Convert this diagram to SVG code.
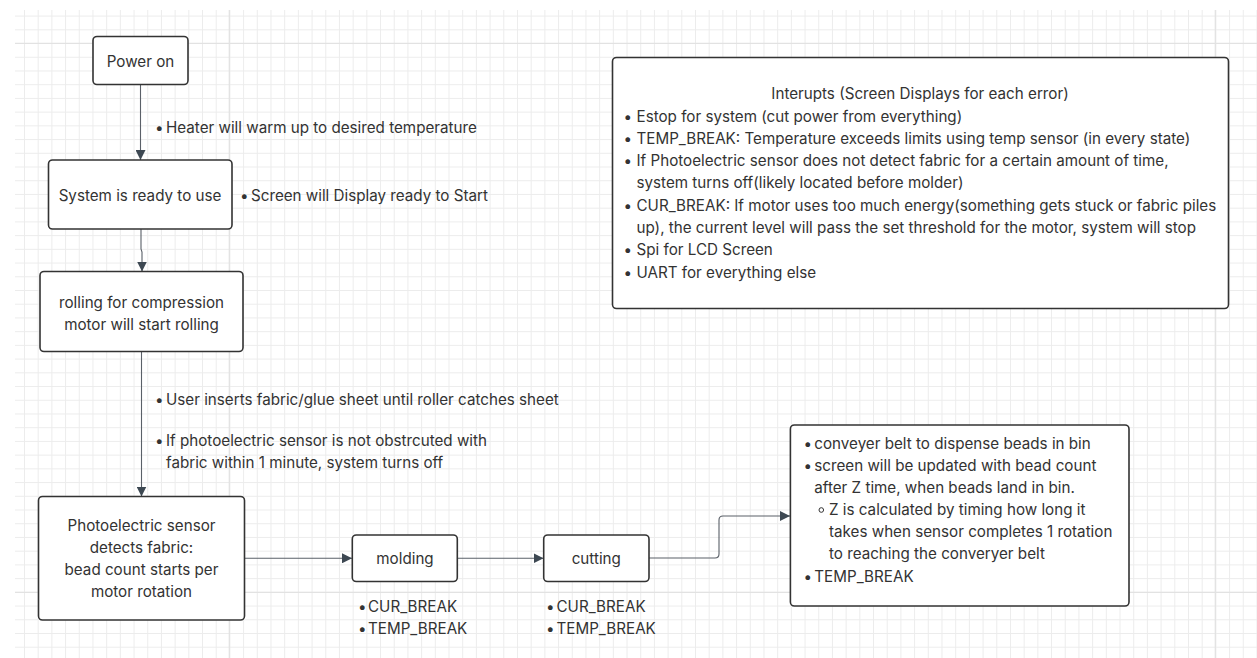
<svg xmlns="http://www.w3.org/2000/svg" width="1257" height="658" viewBox="0 0 1257 658">
  <defs>
    <pattern id="grid" x="24" y="15.6" width="13.694" height="13.72" patternUnits="userSpaceOnUse">
      <path d="M0.5 0 V13.72 M0 0.5 H13.694" fill="none" stroke="#ececec" stroke-width="1"/>
    </pattern>
    <marker id="arrow" viewBox="0 0 10 10" refX="10" refY="5" markerWidth="10" markerHeight="10" markerUnits="userSpaceOnUse" orient="auto">
      <path d="M0 0 L10 5 L0 10 Z" fill="#3d4852"/>
    </marker>
    <style>
      .box { fill: #ffffff; stroke: #333333; stroke-width: 1.6; }
      .t { font-family: Inter, "Liberation Sans", sans-serif; font-size: 15.2px; fill: #333333; }
      .c { text-anchor: middle; dominant-baseline: central; }
      .l { dominant-baseline: central; }
      .wire { fill: none; stroke: #5a6068; stroke-width: 1.1; }
    </style>
  </defs>

  <!-- canvas -->
  <rect x="0" y="0" width="1257" height="658" fill="#ffffff"/>
  <rect x="15" y="10" width="1242" height="648" fill="url(#grid)"/>
  <path d="M229.3 10 V658 M1215.3 10 V658 M15 43.3 H1257 M15 592.3 H1257" stroke="#e2e2e2" stroke-width="1.2" fill="none"/>

  <!-- connectors -->
  <g id="connectors">
    <path class="wire" d="M140.5 85 V160" marker-end="url(#arrow)"/>
    <path class="wire" d="M141 229 V249 L142 252 V271.5" marker-end="url(#arrow)"/>
    <path class="wire" d="M141.5 352 V496.5" marker-end="url(#arrow)"/>
    <path class="wire" d="M244.5 558.3 H352" marker-end="url(#arrow)"/>
    <path class="wire" d="M457.5 558.3 H543.5" marker-end="url(#arrow)"/>
    <path class="wire" d="M649 558 H715 Q719 558 719 554 V520 Q719 516 723 516 H790" marker-end="url(#arrow)"/>
  </g>

  <!-- edge notes -->
  <g id="note-heater">
    <text class="t l" y="127"><tspan x="155">•</tspan><tspan x="166">Heater will warm up to desired temperature</tspan></text>
  </g>
  <g id="note-screen-ready">
    <text class="t l" y="195"><tspan x="240">•</tspan><tspan x="251">Screen will Display ready to Start</tspan></text>
  </g>
  <g id="note-fabric">
    <text class="t l" y="399"><tspan x="155">•</tspan><tspan x="166">User inserts fabric/glue sheet until roller catches sheet</tspan></text>
    <text class="t l" y="440"><tspan x="155">•</tspan><tspan x="166">If photoelectric sensor is not obstrcuted with</tspan></text>
    <text class="t l" x="166" y="462">fabric within 1 minute, system turns off</text>
  </g>

  <!-- nodes -->
  <g id="power-on">
    <rect class="box" x="93" y="36.5" width="95" height="48" rx="4"/>
    <text class="t c" x="140.5" y="61">Power on</text>
  </g>

  <g id="system-ready">
    <rect class="box" x="48.5" y="160" width="183.5" height="69" rx="4"/>
    <text class="t c" x="140" y="195">System is ready to use</text>
  </g>

  <g id="rolling">
    <rect class="box" x="40" y="271.5" width="203" height="80" rx="4"/>
    <text class="t c" x="141.5" y="302">rolling for compression</text>
    <text class="t c" x="141.5" y="324">motor will start rolling</text>
  </g>

  <g id="photoelectric">
    <rect class="box" x="38.5" y="496.5" width="206" height="123.5" rx="4"/>
    <text class="t c" x="141.5" y="525">Photoelectric sensor</text>
    <text class="t c" x="141.5" y="547">detects fabric:</text>
    <text class="t c" x="141.5" y="569">bead count starts per</text>
    <text class="t c" x="141.5" y="591">motor rotation</text>
  </g>

  <g id="molding">
    <rect class="box" x="352.3" y="535" width="105" height="46.5" rx="4"/>
    <text class="t c" x="405" y="558.3">molding</text>
    <text class="t l" y="605.7"><tspan x="358">•</tspan><tspan x="368">CUR_BREAK</tspan></text>
    <text class="t l" y="628.3"><tspan x="358">•</tspan><tspan x="368">TEMP_BREAK</tspan></text>
  </g>

  <g id="cutting">
    <rect class="box" x="543.7" y="535" width="105.3" height="46.5" rx="4"/>
    <text class="t c" x="596.3" y="558.3">cutting</text>
    <text class="t l" y="605.7"><tspan x="546">•</tspan><tspan x="556.5">CUR_BREAK</tspan></text>
    <text class="t l" y="628.3"><tspan x="546">•</tspan><tspan x="556.5">TEMP_BREAK</tspan></text>
  </g>

  <g id="conveyer">
    <rect class="box" x="790.4" y="425" width="338.6" height="181" rx="4"/>
    <text class="t l" y="443.3"><tspan x="803.5">•</tspan><tspan x="814.3">conveyer belt to dispense beads in bin</tspan></text>
    <text class="t l" y="465"><tspan x="803.5">•</tspan><tspan x="814.3">screen will be updated with bead count</tspan></text>
    <text class="t l" x="814.3" y="487">after Z time, when beads land in bin.</text>
    <circle cx="821.3" cy="510" r="2.3" fill="none" stroke="#333333" stroke-width="1"/>
    <text class="t l" x="829" y="509.3">Z is calculated by timing how long it</text>
    <text class="t l" x="829" y="531.5">takes when sensor completes 1 rotation</text>
    <text class="t l" x="829" y="553.5">to reaching the converyer belt</text>
    <text class="t l" y="575.7"><tspan x="803.5">•</tspan><tspan x="814.3">TEMP_BREAK</tspan></text>
  </g>

  <g id="interrupts">
    <rect class="box" x="612.5" y="57.5" width="616" height="251" rx="4"/>
    <text class="t c" x="920" y="93.3">Interupts (Screen Displays for each error)</text>
    <text class="t l" y="115.7"><tspan x="623.5">•</tspan><tspan x="636.5">Estop for system (cut power from everything)</tspan></text>
    <text class="t l" y="138.3"><tspan x="623.5">•</tspan><tspan x="636.5">TEMP_BREAK: Temperature exceeds limits using temp sensor (in every state)</tspan></text>
    <text class="t l" y="160.3"><tspan x="623.5">•</tspan><tspan x="636.5">If Photoelectric sensor does not detect fabric for a certain amount of time,</tspan></text>
    <text class="t l" x="636.5" y="182.7">system turns off(likely located before molder)</text>
    <text class="t l" y="205"><tspan x="623.5">•</tspan><tspan x="636.5">CUR_BREAK: If motor uses too much energy(something gets stuck or fabric piles</tspan></text>
    <text class="t l" x="636.5" y="227.3">up), the current level will pass the set threshold for the motor, system will stop</text>
    <text class="t l" y="249.3"><tspan x="623.5">•</tspan><tspan x="636.5">Spi for LCD Screen</tspan></text>
    <text class="t l" y="271.7"><tspan x="623.5">•</tspan><tspan x="636.5">UART for everything else</tspan></text>
  </g>
</svg>
